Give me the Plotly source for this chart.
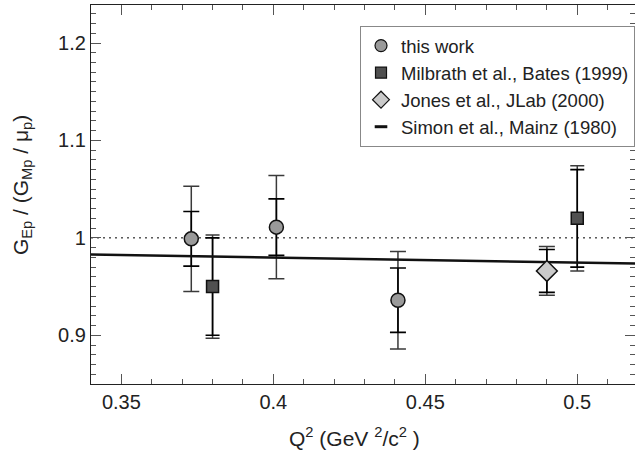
import plotly.graph_objects as go

# ---- data ----
this_x = [0.373, 0.401, 0.441]
this_y = [0.999, 1.011, 0.936]
this_stat = [0.028, 0.029, 0.033]
this_tot = [0.054, 0.053, 0.050]

milb_x = [0.380, 0.500]
milb_y = [0.950, 1.020]
milb_stat = [0.050, 0.050]
milb_tot = [0.053, 0.054]

jones_x = [0.490]
jones_y = [0.966]
jones_stat = [0.022]
jones_tot = [0.025]

simon_x = [0.34, 0.52]
simon_y = [0.983, 0.9735]

ref_x = [0.34, 0.52]
ref_y = [1.0, 1.0]

legend_names = ["this work", "Milbrath et al., Bates (1999)",
                "Jones et al., JLab (2000)", "Simon et al., Mainz (1980)"]

FONT = "Liberation Sans, Arial, sans-serif"
TXT = "#222222"

fig = go.Figure()

series = [
    (this_x, this_y, this_stat, this_tot, "circle", 14, "#9a9a9a", 8),
    (milb_x, milb_y, milb_stat, milb_tot, "square", 12, "#505050", 7),
    (jones_x, jones_y, jones_stat, jones_tot, "diamond", 16, "#cacaca", 8),
]

# reference line y=1 (dotted)
fig.add_trace(go.Scatter(x=ref_x, y=ref_y, mode="lines", showlegend=False,
                         line=dict(color="black", width=1, dash="2px,4px"),
                         hoverinfo="skip"))

# error bars (outer = total, inner = statistical)
for xs, ys, st, tot, sym, sz, col, w in series:
    fig.add_trace(go.Scatter(x=xs, y=ys, mode="markers", showlegend=False,
                             marker=dict(size=1, opacity=0),
                             error_y=dict(type="data", array=tot, visible=True,
                                          color="#3a3a3a", thickness=1.5, width=w)))
    fig.add_trace(go.Scatter(x=xs, y=ys, mode="markers", showlegend=False,
                             marker=dict(size=1, opacity=0),
                             error_y=dict(type="data", array=st, visible=True,
                                          color="#000000", thickness=1.6, width=w)))

# Simon et al. line
fig.add_trace(go.Scatter(x=simon_x, y=simon_y, mode="lines", showlegend=False,
                         line=dict(color="#111111", width=2.5)))

# markers
for xs, ys, st, tot, sym, sz, col, w in series:
    fig.add_trace(go.Scatter(x=xs, y=ys, mode="markers", showlegend=False,
                             marker=dict(symbol=sym, size=sz, color=col,
                                         line=dict(color="#111111", width=1.5))))

# legend-only entries
leg_syms = [("circle", 12, "#9a9a9a"), ("square", 11, "#505050"),
            ("diamond", 13, "#cacaca")]
for name, (sym, sz, col) in zip(legend_names[:3], leg_syms):
    fig.add_trace(go.Scatter(x=[None], y=[None], mode="markers", name=name,
                             marker=dict(symbol=sym, size=sz, color=col,
                                         line=dict(color="#111111", width=1.2))))
fig.add_trace(go.Scatter(x=[None], y=[None], mode="markers", name=legend_names[3],
                         marker=dict(symbol="line-ew", size=9,
                                     line=dict(color="#111111", width=3))))

axis_common = dict(showline=True, linecolor="#222222", linewidth=1.2,
                   mirror="ticks", ticks="inside", ticklen=10, tickwidth=1,
                   tickcolor="#555555", showgrid=False, zeroline=False,
                   tickfont=dict(family=FONT, size=20, color=TXT))

fig.update_xaxes(range=[0.34, 0.519], tick0=0.35, dtick=0.05,
                 minor=dict(dtick=0.01, ticks="inside", ticklen=5,
                            tickcolor="#555555", showgrid=False),
                 **axis_common)
fig.update_yaxes(range=[0.85, 1.239], tick0=0.9, dtick=0.1,
                 minor=dict(dtick=0.01, ticks="inside", ticklen=5,
                            tickcolor="#555555", showgrid=False),
                 **axis_common)

# axis titles
fig.add_annotation(text="Q<sup>2</sup> (GeV <sup>2</sup>/c<sup>2</sup> )",
                   xref="paper", yref="paper", x=0.4835, y=-0.141,
                   xanchor="center", yanchor="middle", showarrow=False,
                   font=dict(family=FONT, size=21, color=TXT))
fig.add_annotation(text="G<sub>Ep</sub> / (G<sub>Mp</sub> / μ<sub>p</sub>)",
                   xref="paper", yref="paper", x=-0.127, y=0.5246,
                   xanchor="center", yanchor="middle", showarrow=False,
                   textangle=-90,
                   font=dict(family=FONT, size=21, color=TXT))

fig.update_layout(
    width=635, height=452,
    margin=dict(l=91, r=0, t=5, b=68, autoexpand=False),
    plot_bgcolor="white", paper_bgcolor="white",
    font=dict(family=FONT, color=TXT),
    legend=dict(x=0.4945, y=0.9445, xanchor="left", yanchor="top",
                bordercolor="#888888", borderwidth=1, bgcolor="white",
                font=dict(family=FONT, size=18.5, color=TXT),
                itemsizing="trace", tracegroupgap=0),
)

fig.write_html("out.html", config={"displayModeBar": False},
               post_script="document.body.style.margin='0';document.body.style.padding='0';")
